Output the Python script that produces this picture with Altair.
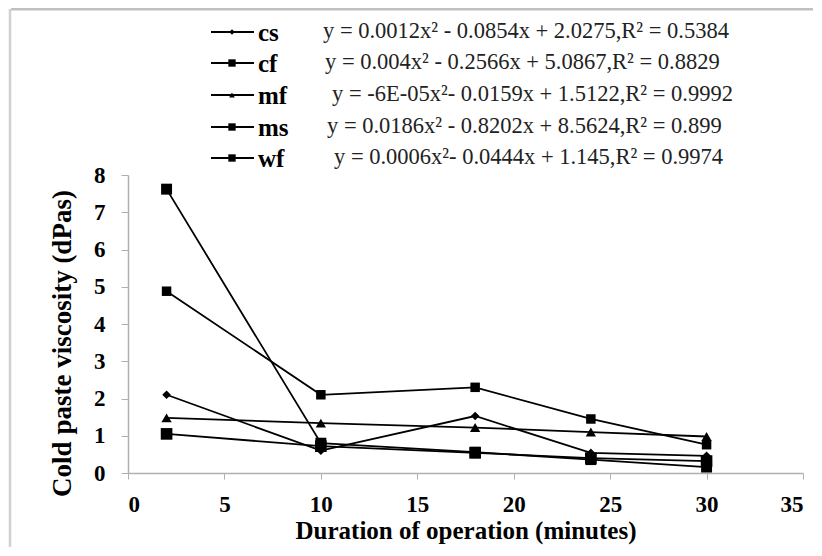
import altair as alt
import pandas as pd

# ---- data ----
durations = [2, 10, 18, 24, 30]
series_names = ["cs", "cf", "mf", "ms", "wf"]
cs = [2.10, 0.60, 1.53, 0.54, 0.46]
cf = [4.88, 2.10, 2.30, 1.45, 0.76]
mf = [1.48, 1.34, 1.22, 1.10, 0.98]
ms = [7.62, 0.80, 0.56, 0.36, 0.16]
wf = [1.05, 0.72, 0.54, 0.40, 0.32]
equations = [
    "y = 0.0012x² - 0.0854x + 2.0275,R² = 0.5384",
    "y = 0.004x² - 0.2566x + 5.0867,R² = 0.8829",
    "y = -6E-05x²- 0.0159x + 1.5122,R² = 0.9992",
    "y = 0.0186x² - 0.8202x + 8.5624,R² = 0.899",
    "y = 0.0006x²- 0.0444x + 1.145,R² = 0.9974",
]
shapes = ["diamond", "square", "triangle-up", "square", "square"]
sizes = [75, 135, 80, 135, 135]
x_ticks = [0, 5, 10, 15, 20, 25, 30, 35]
y_ticks = [0, 1, 2, 3, 4, 5, 6, 7, 8]

values = {"cs": cs, "cf": cf, "mf": mf, "ms": ms, "wf": wf}
rows = []
for name in series_names:
    for d, v in zip(durations, values[name]):
        rows.append({"series": name, "duration": d, "viscosity": v})
df = pd.DataFrame(rows)

W, H = 675, 298
SERIF = "Liberation Serif, Times New Roman, serif"

x_enc = alt.X(
    "duration:Q",
    scale=alt.Scale(domain=[0, 35], nice=False, zero=True),
    axis=alt.Axis(
        values=x_ticks, title="Duration of operation (minutes)", grid=False,
        labelFont=SERIF, labelFontWeight="bold", labelFontSize=23, labelColor="black",
        labelPadding=14, labelOverlap=False, tickSize=6, tickColor="#b0b0b0",
        domainColor="#b0b0b0", domainWidth=1.5, titleFont=SERIF, titleFontWeight="bold",
        titleFontSize=25, titleColor="black", titlePadding=2,
    ),
)
y_enc = alt.Y(
    "viscosity:Q",
    scale=alt.Scale(domain=[0, 8], nice=False),
    axis=alt.Axis(
        values=y_ticks, title="Cold paste viscosity (dPas)", grid=False,
        labelFont=SERIF, labelFontWeight="bold", labelFontSize=23, labelColor="black",
        labelPadding=16, labelOverlap=False, tickSize=7, tickColor="#b0b0b0",
        domainColor="#b0b0b0", domainWidth=1.5, titleFont=SERIF, titleFontWeight="bold",
        titleFontSize=27, titleColor="black", titleX=-66, titleY=168, titleAngle=-90,
        titleBaseline="middle", titleAlign="center",
    ),
)

base = alt.Chart(df)
lines = base.mark_line(color="black", strokeWidth=1.8).encode(
    x=x_enc, y=y_enc, detail="series:N"
)
points = base.mark_point(filled=True, color="black", opacity=1).encode(
    x=x_enc,
    y=y_enc,
    shape=alt.Shape("series:N", scale=alt.Scale(domain=series_names, range=shapes), legend=None),
    size=alt.Size("series:N", scale=alt.Scale(domain=series_names, range=sizes), legend=None),
)

layers = [lines, points]

# manual legend with equations (above the plot area)
row_y = [-143, -112, -80, -48, -17]
eq_x = [195, 197, 204, 199, 206]
for i, name in enumerate(series_names):
    d = pd.DataFrame({"name": [name], "eq": [equations[i]]})
    c = alt.Chart(d)
    layers.append(c.mark_rule(color="black", strokeWidth=1.8).encode(
        x=alt.value(83), x2=alt.value(126), y=alt.value(row_y[i])))
    layers.append(c.mark_point(filled=True, color="black", opacity=1,
                               shape=shapes[i], size=sizes[i] * 0.4).encode(
        x=alt.value(104), y=alt.value(row_y[i])))
    layers.append(c.mark_text(font=SERIF, fontWeight="bold", fontSize=25, align="left",
                              baseline="middle", color="black").encode(
        x=alt.value(130), y=alt.value(row_y[i] + 1), text="name:N"))
    layers.append(c.mark_text(font=SERIF, fontSize=22.5, align="left",
                              baseline="middle", color="#222222").encode(
        x=alt.value(eq_x[i]), y=alt.value(row_y[i] - 1), text="eq:N"))

# grey frame lines at top/left of the picture
frame = pd.DataFrame({"k": [0]})
fc = alt.Chart(frame)
layers.append(fc.mark_rule(color="#c0c0c0", strokeWidth=3).encode(
    x=alt.value(-117), x2=alt.value(690), y=alt.value(-166)))
layers.append(fc.mark_rule(color="#d0d0d0", strokeWidth=2.5).encode(
    x=alt.value(-118), y=alt.value(-166), y2=alt.value(372)))

chart = alt.layer(*layers).properties(
    width=W, height=H,
    autosize=alt.AutoSizeParams(type="none"),
    padding={"left": 120, "top": 167, "right": 10, "bottom": 75},
).configure_view(stroke=None)

chart.save("out.html", embed_options={"renderer": "svg", "actions": False})
